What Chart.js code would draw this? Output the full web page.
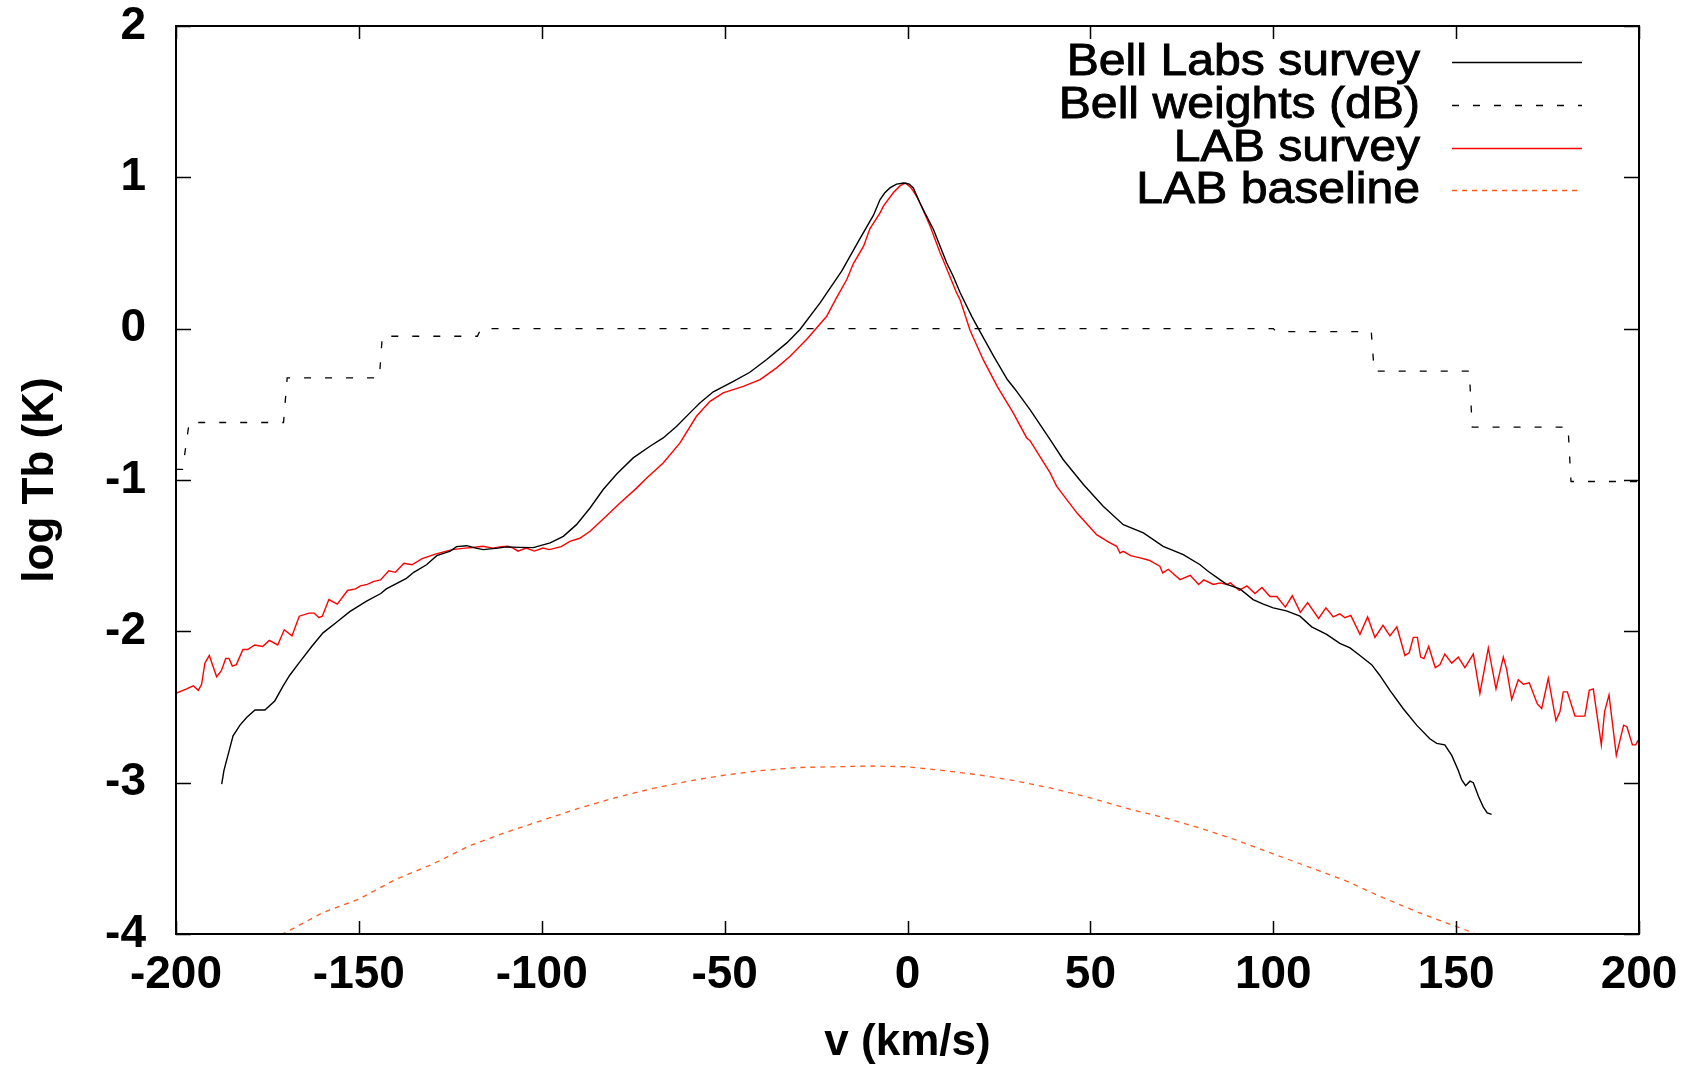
<!DOCTYPE html>
<html>
<head>
<meta charset="utf-8">
<title>HI brightness temperature profile</title>
<script src="https://cdn.jsdelivr.net/npm/chart.js@4/dist/chart.umd.min.js"></script>
<style>
  html, body { margin: 0; padding: 0; background: #ffffff; }
  #wrap { width: 1695px; height: 1066px; position: relative; }
</style>
</head>
<body>
<div id="wrap"><canvas id="c"></canvas></div>
<script>
// Velocity axis (km/s) and log brightness temperature (K) tick values
const xTickValues = [-200, -150, -100, -50, 0, 50, 100, 150, 200];
const yTickValues = [-4, -3, -2, -1, 0, 1, 2];

// Bell Labs survey profile
const bellV = [-187.5, -186.9, -185.7, -184.4, -182.5, -180.7, -178.4, -175.7, -173.0, -170.7,
  -168.9, -166.1, -162.9, -159.8, -156.1, -152.5, -147.9, -144.0, -142.5, -137.0,
  -135.0, -131.5, -128.7, -125.0, -123.3, -120.5, -118.0, -116.0, -112.0, -109.6,
  -106.0, -102.3, -97.7, -94.1, -90.5, -86.8, -83.2, -79.5, -75.0, -70.4,
  -66.8, -63.1, -58.6, -56.7, -53.1, -47.6, -43.1, -38.5, -33.0, -29.4,
  -23.9, -18.0, -13.0, -9.3, -7.5, -6.2, -4.8, -3.0, -1.1, 0.5,
  1.6, 3.4, 4.3, 7.1, 10.7, 12.5, 14.4, 17.6, 19.6, 23.5,
  27.3, 29.4, 33.5, 39.0, 42.6, 48.1, 53.5, 59.0, 64.5, 69.9,
  75.4, 80.0, 82.0, 85.5, 87.3, 90.9, 94.5, 97.3, 100.0, 103.6,
  107.3, 110.5, 114.6, 118.2, 121.0, 123.7, 126.9, 129.1, 131.9, 135.5,
  139.2, 142.8, 144.7, 146.9, 148.8, 150.6, 151.5, 152.6, 153.8, 154.7,
  156.1, 157.4, 158.5, 159.7];
const bellT = [-3.01, -2.92, -2.81, -2.69, -2.62, -2.57, -2.52, -2.52, -2.46, -2.36,
  -2.29, -2.20, -2.10, -2.01, -1.94, -1.87, -1.80, -1.75, -1.72, -1.65,
  -1.61, -1.56, -1.50, -1.47, -1.44, -1.434, -1.45, -1.46, -1.45, -1.442,
  -1.445, -1.447, -1.416, -1.372, -1.295, -1.185, -1.063, -0.960, -0.854, -0.777,
  -0.722, -0.645, -0.535, -0.49, -0.417, -0.348, -0.288, -0.204, -0.094, -0.005,
  0.170, 0.38, 0.595, 0.75, 0.853, 0.898, 0.930, 0.955, 0.962, 0.955,
  0.930, 0.83, 0.787, 0.655, 0.435, 0.346, 0.237, 0.08, -0.01, -0.18,
  -0.336, -0.40, -0.535, -0.733, -0.866, -1.030, -1.174, -1.295, -1.350, -1.438,
  -1.493, -1.56, -1.60, -1.66, -1.69, -1.72, -1.79, -1.82, -1.845, -1.865,
  -1.90, -1.97, -2.02, -2.08, -2.11, -2.16, -2.22, -2.29, -2.39, -2.51,
  -2.62, -2.71, -2.74, -2.75, -2.82, -2.92, -2.98, -3.02, -2.99, -3.00,
  -3.09, -3.16, -3.20, -3.21];

// Bell Labs weights (dB), stepped
const weightV = [-200, -198.2, -196.4, -170.6, -169.6, -144.4, -143.6, -117.6, -116.6, 100.0,
  100.8, 126.8, 127.6, 153.6, 154.4, 180.6, 181.4, 200];
const weightT = [-0.93, -0.93, -0.62, -0.62, -0.325, -0.325, -0.05, -0.05, 0.0, 0.0,
  -0.02, -0.02, -0.28, -0.28, -0.65, -0.65, -1.01, -1.01];

// LAB survey profile
const labV = [-200.0, -197.1, -195.3, -193.9, -193.0, -192.1, -190.9, -188.9, -187.6, -186.4,
  -185.5, -184.6, -183.5, -181.7, -180.4, -178.5, -176.3, -174.5, -172.2, -170.4,
  -168.3, -166.3, -163.6, -162.2, -160.9, -160.0, -158.2, -155.9, -153.1, -150.9,
  -149.6, -147.7, -145.9, -144.1, -141.8, -140.0, -137.7, -135.5, -132.7, -129.1,
  -124.5, -120.9, -118.8, -116.1, -113.4, -111.0, -109.3, -107.8, -106.5, -104.3,
  -102.0, -99.7, -97.9, -94.7, -92.3, -89.6, -86.8, -83.2, -78.6, -74.0,
  -71.3, -66.8, -62.2, -57.7, -54.0, -50.4, -44.9, -40.3, -35.8, -32.1,
  -27.6, -22.1, -19.5, -16.6, -14.8, -12.0, -10.3, -7.5, -6.6, -3.9,
  -2.0, -0.5, 1.0, 2.5, 3.4, 6.2, 8.9, 9.8, 13.4, 14.4,
  17.1, 20.7, 24.6, 28.9, 32.6, 33.5, 39.0, 40.8, 46.3, 51.7,
  55.0, 57.2, 58.1, 59.0, 61.0, 63.6, 66.0, 69.0, 69.8, 71.3,
  74.5, 77.3, 79.6, 81.0, 83.6, 85.5, 87.3, 88.3, 90.7, 92.8,
  95.0, 96.9, 99.1, 101.0, 103.3, 105.2, 107.4, 109.4, 112.4, 114.4,
  116.4, 118.2, 119.6, 121.2, 123.7, 125.8, 127.8, 130.0, 131.9, 133.8,
  136.0, 137.2, 138.3, 139.4, 140.3, 141.2, 142.5, 144.3, 145.6, 146.9,
  148.8, 150.6, 152.4, 154.7, 156.5, 158.8, 160.9, 162.9, 163.8, 165.2,
  167.0, 168.4, 170.0, 172.2, 173.4, 175.2, 177.3, 178.4, 179.3, 180.4,
  182.5, 185.2, 186.4, 187.5, 189.7, 190.6, 191.8, 193.8, 195.8, 196.7,
  198.2, 199.1, 200.0];
const labT = [-2.41, -2.38, -2.36, -2.39, -2.35, -2.21, -2.16, -2.30, -2.26, -2.18,
  -2.18, -2.23, -2.22, -2.12, -2.12, -2.09, -2.10, -2.06, -2.09, -1.99,
  -2.03, -1.90, -1.88, -1.88, -1.91, -1.90, -1.79, -1.82, -1.73, -1.72,
  -1.70, -1.69, -1.67, -1.66, -1.60, -1.61, -1.55, -1.56, -1.52, -1.49,
  -1.46, -1.45, -1.446, -1.438, -1.45, -1.44, -1.438, -1.45, -1.47, -1.45,
  -1.47, -1.45, -1.46, -1.44, -1.405, -1.385, -1.339, -1.257, -1.152, -1.052,
  -0.987, -0.888, -0.755, -0.579, -0.48, -0.424, -0.381, -0.337, -0.259, -0.182,
  -0.072, 0.082, 0.20, 0.325, 0.43, 0.545, 0.66, 0.765, 0.81, 0.898,
  0.945, 0.963, 0.93, 0.875, 0.832, 0.677, 0.501, 0.45, 0.237, 0.19,
  -0.01, -0.205, -0.385, -0.557, -0.722, -0.74, -0.953, -1.042, -1.217, -1.361,
  -1.41, -1.438, -1.482, -1.471, -1.50, -1.515, -1.53, -1.570, -1.614, -1.59,
  -1.658, -1.63, -1.69, -1.66, -1.69, -1.68, -1.69, -1.68, -1.73, -1.70,
  -1.75, -1.71, -1.77, -1.77, -1.84, -1.765, -1.875, -1.81, -1.915, -1.845,
  -1.905, -1.885, -1.91, -1.895, -2.02, -1.905, -2.04, -1.96, -2.03, -1.97,
  -2.16, -2.14, -2.04, -2.04, -2.17, -2.18, -2.10, -2.24, -2.22, -2.15,
  -2.21, -2.17, -2.24, -2.15, -2.41, -2.11, -2.38, -2.17, -2.25, -2.45,
  -2.32, -2.35, -2.34, -2.48, -2.51, -2.31, -2.59, -2.53, -2.40, -2.40,
  -2.56, -2.56, -2.39, -2.38, -2.75, -2.53, -2.42, -2.82, -2.62, -2.63,
  -2.75, -2.75, -2.71];

// LAB baseline
const baseV = [-200, -190, -180, -170, -160, -150, -140, -130, -120, -110,
  -100, -90, -80, -70, -60, -50, -40, -30, -20, -10,
  0, 10, 20, 30, 40, 50, 60, 70, 80, 90,
  100, 110, 120, 130, 140, 150, 160, 170, 180, 190, 200];
const baseT = [-4.22, -4.14, -4.07, -3.99, -3.86, -3.77, -3.64, -3.54, -3.42, -3.33,
  -3.25, -3.17, -3.10, -3.04, -2.99, -2.95, -2.92, -2.90, -2.895, -2.89,
  -2.895, -2.92, -2.95, -2.99, -3.04, -3.10, -3.17, -3.23, -3.30, -3.38,
  -3.47, -3.56, -3.65, -3.76, -3.86, -3.95, -4.04, -4.12, -4.21, -4.30, -4.39];

const pts = (xs, ys) => xs.map((x, i) => ({ x: x, y: ys[i] }));

const FONT = "'Liberation Sans', Arial, Helvetica, sans-serif";

// Frame, inward tick marks on all four sides, and the key in the upper right
const framePlugin = {
  id: 'frame',
  afterDatasetsDraw(chart) {
    const { ctx, chartArea: a, scales } = chart;
    ctx.save();
    ctx.strokeStyle = '#000000';
    ctx.lineWidth = 1.5;
    ctx.beginPath();
    xTickValues.forEach(v => {
      const px = Math.round(scales.x.getPixelForValue(v)) + 0.5;
      ctx.moveTo(px, a.bottom); ctx.lineTo(px, a.bottom - 13);
      ctx.moveTo(px, a.top); ctx.lineTo(px, a.top + 13);
    });
    yTickValues.forEach(v => {
      const py = Math.round(scales.y.getPixelForValue(v)) + 0.5;
      ctx.moveTo(a.left, py); ctx.lineTo(a.left + 15, py);
      ctx.moveTo(a.right, py); ctx.lineTo(a.right - 15, py);
    });
    ctx.stroke();
    ctx.lineWidth = 2;
    ctx.strokeRect(a.left, a.top, a.right - a.left, a.bottom - a.top);

    // key: labels right-aligned, sample lines to their right
    const rowY = [62, 105, 148, 190];
    const textRight = 1420, lineL = 1452, lineR = 1582;
    ctx.font = 'normal 45px ' + FONT;
    ctx.textAlign = 'right';
    ctx.textBaseline = 'middle';
    chart.data.datasets.forEach((ds, i) => {
      const y = rowY[i];
      ctx.save();
      ctx.fillStyle = '#000000';
      ctx.strokeStyle = '#000000';
      ctx.lineWidth = 0.9;
      ctx.translate(textRight, y + 1);
      ctx.scale(1.07, 1);
      ctx.fillText(ds.label, 0, 0);
      ctx.strokeText(ds.label, 0, 0);
      ctx.restore();
      ctx.beginPath();
      ctx.strokeStyle = ds.borderColor;
      ctx.lineWidth = ds.borderWidth;
      ctx.setLineDash(ds.borderDash || []);
      ctx.moveTo(lineL, y + 0.5);
      ctx.lineTo(lineR, y + 0.5);
      ctx.stroke();
      ctx.setLineDash([]);
    });
    ctx.restore();
  }
};

new Chart(document.getElementById('c'), {
  type: 'line',
  data: {
    datasets: [
      { label: 'Bell Labs survey', data: pts(bellV, bellT), borderColor: '#000000', borderWidth: 1.4 },
      { label: 'Bell weights (dB)', data: pts(weightV, weightT), borderColor: '#000000', borderWidth: 1.3, borderDash: [7, 14] },
      { label: 'LAB survey', data: pts(labV, labT), borderColor: '#ff0000', borderWidth: 1.4 },
      { label: 'LAB baseline', data: pts(baseV, baseT), borderColor: '#ff5a1f', borderWidth: 1.3, borderDash: [5, 5] }
    ]
  },
  options: {
    responsive: true,
    maintainAspectRatio: false,
    animation: false,
    devicePixelRatio: 1,
    layout: { padding: { top: 26, right: 56, left: 0, bottom: 0 } },
    elements: {
      point: { radius: 0, hoverRadius: 0 },
      line: { tension: 0, fill: false }
    },
    plugins: {
      legend: { display: false },
      tooltip: { enabled: false }
    },
    scales: {
      x: {
        type: 'linear',
        min: -200, max: 200,
        afterBuildTicks: s => { s.ticks = xTickValues.map(v => ({ value: v })); },
        afterFit: s => { s.height = 132; s.paddingLeft = 0; s.paddingRight = 0; },
        grid: { display: false, drawTicks: false },
        border: { display: false },
        ticks: {
          padding: 14,
          color: '#000000',
          maxRotation: 0,
          font: { family: FONT, size: 46, weight: 'bold' }
        },
        title: {
          display: true,
          text: 'v (km/s)',
          color: '#000000',
          font: { family: FONT, size: 44, weight: 'bold', lineHeight: 1.0 },
          padding: { top: 0, bottom: 1 }
        }
      },
      y: {
        type: 'linear',
        min: -4, max: 2,
        afterBuildTicks: s => { s.ticks = yTickValues.map(v => ({ value: v })); },
        afterFit: s => { s.width = 176; s.paddingTop = 0; s.paddingBottom = 0; },
        grid: { display: false, drawTicks: false },
        border: { display: false },
        ticks: {
          padding: 30,
          color: '#000000',
          font: { family: FONT, size: 46, weight: 'bold' }
        },
        title: {
          display: true,
          text: 'log Tb (K)',
          color: '#000000',
          font: { family: FONT, size: 44, weight: 'bold', lineHeight: 1.0 },
          padding: { top: 19, bottom: 0 }
        }
      }
    }
  },
  plugins: [framePlugin]
});
</script>
</body>
</html>
